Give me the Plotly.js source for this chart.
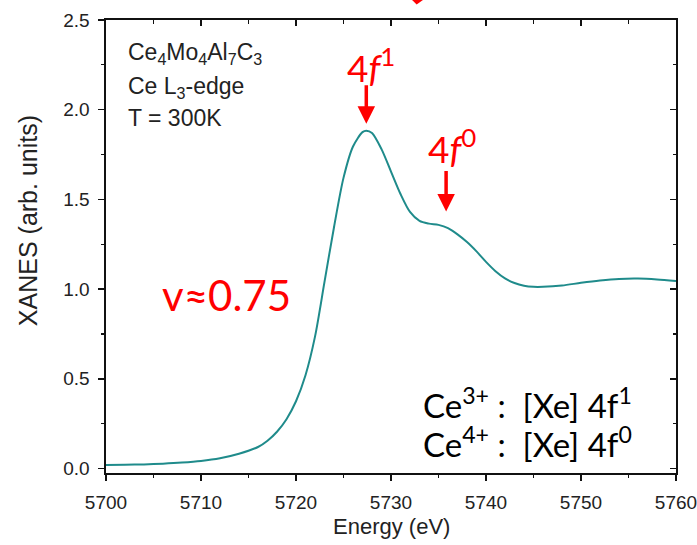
<!DOCTYPE html>
<html>
<head>
<meta charset="utf-8">
<script src="https://cdn.plot.ly/plotly-3.0.1.min.js"></script>
<style>
  html, body { margin: 0; padding: 0; background: #fff; }
  #chart { width: 697px; height: 545px; }
</style>
</head>
<body>
<div id="chart"></div>
<script>
// Ce L3-edge XANES spectrum of Ce4Mo4Al7C3 at 300 K
var energy = [5700, 5702, 5704, 5706, 5708, 5710, 5712, 5714, 5716, 5717, 5718, 5719,
              5720, 5721, 5722, 5723, 5724, 5725, 5726, 5727, 5727.4, 5728, 5729, 5730,
              5731, 5732, 5733, 5734, 5735, 5736, 5737, 5738, 5739, 5740, 5741, 5742,
              5743, 5744, 5745, 5746, 5748, 5750, 5752, 5754, 5756, 5758, 5760];
var xanes = [0.019, 0.021, 0.023, 0.027, 0.033, 0.042, 0.057, 0.082, 0.120, 0.155, 0.205, 0.275,
             0.375, 0.520, 0.735, 1.040, 1.345, 1.620, 1.795, 1.875, 1.883, 1.870, 1.780, 1.655,
             1.530, 1.430, 1.380, 1.365, 1.358, 1.340, 1.305, 1.262, 1.210, 1.152, 1.100, 1.060,
             1.034, 1.019, 1.013, 1.013, 1.020, 1.035, 1.048, 1.057, 1.059, 1.054, 1.045];

var xTickVals = [5700, 5710, 5720, 5730, 5740, 5750, 5760];
var yTickVals = [0.0, 0.5, 1.0, 1.5, 2.0, 2.5];
var yTickText = ['0.0', '0.5', '1.0', '1.5', '2.0', '2.5'];

// white line (4f1) and shoulder (4f0) positions
var peakIndex = xanes.indexOf(Math.max.apply(null, xanes));
var whiteLineEnergy = energy[peakIndex];
var whiteLineValue = xanes[peakIndex];
var shoulderEnergy = 5735.8;
var shoulderValue = 1.432;
var valence = 0.75;

var lineColor = '#1f8b8b';
var red = '#ff0000';
var sans = 'Liberation Sans, Arial, sans-serif';
var axisFont = {family: sans, size: 19, color: '#222'};
var labelFont = {family: sans, size: 23, color: '#222'};

var spectrum = {
  x: energy, y: xanes, type: 'scatter', mode: 'lines',
  line: {color: lineColor, width: 2, shape: 'spline', smoothing: 0.8},
  hoverinfo: 'x+y', showlegend: false
};
// same curve on the mirrored top/right axes (carries their inward ticks)
var mirrorTrace = {
  x: energy, y: xanes, xaxis: 'x2', yaxis: 'y2', type: 'scatter', mode: 'lines',
  line: {color: 'rgba(0,0,0,0)', width: 0}, hoverinfo: 'skip', showlegend: false
};

var baseX = {
  range: [5700, 5760], tickvals: xTickVals, ticktext: xTickVals.map(String),
  showgrid: false, zeroline: false, showline: true, linecolor: '#111', linewidth: 1.6,
  tickcolor: '#111', tickwidth: 1.4, tickfont: axisFont, ticklabeloverflow: 'allow'
};
var baseY = {
  range: [-0.025, 2.5], tickvals: yTickVals, ticktext: yTickText,
  showgrid: false, zeroline: false, showline: true, linecolor: '#111', linewidth: 1.6,
  tickcolor: '#111', tickwidth: 1.4, tickfont: axisFont, ticklabeloverflow: 'allow'
};

var layout = {
  width: 697, height: 545,
  margin: {l: 106, r: 21, t: 20, b: 72, pad: 0},
  paper_bgcolor: '#fff', plot_bgcolor: '#fff',
  showlegend: false,
  xaxis: Object.assign({}, baseX, {
    ticks: 'outside', ticklen: 6, ticklabelstandoff: 6,
    minor: {dtick: 5, tick0: 5700, ticks: 'outside', ticklen: 3.5, tickwidth: 1.2, tickcolor: '#111'}
  }),
  yaxis: Object.assign({}, baseY, {
    ticks: 'outside', ticklen: 6, ticklabelstandoff: 5,
    minor: {dtick: 0.25, tick0: 0, ticks: 'outside', ticklen: 3.5, tickwidth: 1.2, tickcolor: '#111'}
  }),
  xaxis2: Object.assign({}, baseX, {
    overlaying: 'x', side: 'top', matches: 'x', ticks: 'inside', ticklen: 6,
    showticklabels: false,
    minor: {dtick: 5, tick0: 5700, ticks: 'inside', ticklen: 3.5, tickwidth: 1.2, tickcolor: '#111'}
  }),
  yaxis2: Object.assign({}, baseY, {
    overlaying: 'y', side: 'right', matches: 'y', ticks: 'inside', ticklen: 6,
    showticklabels: false,
    minor: {dtick: 0.25, tick0: 0, ticks: 'inside', ticklen: 3.5, tickwidth: 1.2, tickcolor: '#111'}
  }),
  annotations: [
    // axis titles
    {text: 'Energy (eV)', xref: 'paper', yref: 'paper', x: 0.5, y: -0.118,
     xanchor: 'center', yanchor: 'middle', showarrow: false, font: {family: sans, size: 22, color: '#222'}},
    {text: 'XANES (arb. units)', xref: 'paper', yref: 'paper', x: -0.137, y: 0.558,
     xanchor: 'center', yanchor: 'middle', textangle: -90, showarrow: false,
     font: {family: sans, size: 25, color: '#222'}},
    // sample description
    {text: 'Ce<sub>4</sub>Mo<sub>4</sub>Al<sub>7</sub>C<sub>3</sub>', xref: 'paper', yref: 'paper',
     x: 0.035, y: 0.927, xanchor: 'left', yanchor: 'middle', showarrow: false, font: labelFont},
    {text: 'Ce L<sub>3</sub>-edge', xref: 'paper', yref: 'paper',
     x: 0.035, y: 0.852, xanchor: 'left', yanchor: 'middle', showarrow: false, font: labelFont},
    {text: 'T = 300K', xref: 'paper', yref: 'paper',
     x: 0.035, y: 0.783, xanchor: 'left', yanchor: 'middle', showarrow: false, font: labelFont},
    // 4f1 white line marker
    {text: '4<i>f</i><sup>1</sup>', xref: 'x', yref: 'y', x: whiteLineEnergy, y: whiteLineValue,
     xanchor: 'center', yanchor: 'middle', xshift: 5, yshift: 66, showarrow: false,
     font: {family: 'Lato, sans-serif', size: 37, color: red}},
    {text: '', xref: 'x', yref: 'y', x: whiteLineEnergy, y: whiteLineValue, yshift: 7,
     showarrow: true, arrowhead: 2, arrowsize: 1, arrowwidth: 3.5, arrowcolor: red, ax: 0, ay: -40},
    // 4f0 shoulder marker
    {text: '4<i>f</i><sup>0</sup>', xref: 'x', yref: 'y', x: shoulderEnergy, y: shoulderValue,
     xanchor: 'center', yanchor: 'middle', xshift: 6, yshift: 66, showarrow: false,
     font: {family: 'Lato, sans-serif', size: 37, color: red}},
    {text: '', xref: 'x', yref: 'y', x: shoulderEnergy, y: shoulderValue,
     showarrow: true, arrowhead: 2, arrowsize: 1, arrowwidth: 3.5, arrowcolor: red, ax: 0, ay: -42},
    // mean valence
    {text: 'v\u2248' + valence.toFixed(2), xref: 'paper', yref: 'paper', x: 0.212, y: 0.394,
     xanchor: 'center', yanchor: 'middle', showarrow: false,
     font: {family: 'Lato, sans-serif', size: 42, color: red}},
    // electron configurations
    {text: 'Ce<sup>3+</sup> :  [Xe] 4f<sup>1</sup>', xref: 'paper', yref: 'paper', x: 0.553, y: 0.155,
     xanchor: 'left', yanchor: 'middle', showarrow: false,
     font: {family: 'Lato, sans-serif', size: 33, color: '#000'}},
    {text: 'Ce<sup>4+</sup> :  [Xe] 4f<sup>0</sup>', xref: 'paper', yref: 'paper', x: 0.553, y: 0.069,
     xanchor: 'left', yanchor: 'middle', showarrow: false,
     font: {family: 'Lato, sans-serif', size: 33, color: '#000'}}
  ],
  shapes: [
    // tip of a red pointer entering from above the frame
    {type: 'path', xref: 'paper', yref: 'paper', path: 'M 0.537 1.044 L 0.556 1.044 L 0.545 1.034 Z',
     fillcolor: red, line: {color: red, width: 0}}
  ]
};

Plotly.newPlot('chart', [spectrum, mirrorTrace], layout, {displayModeBar: false, staticPlot: true});
</script>
</body>
</html>
